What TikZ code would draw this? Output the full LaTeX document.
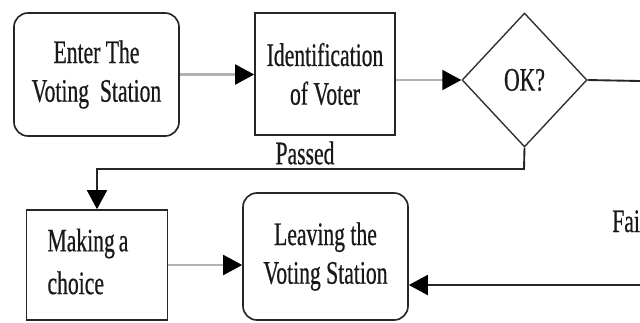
\documentclass[tikz,border=0pt]{standalone}
\usepackage{fontspec}
\usetikzlibrary{shapes.geometric,arrows.meta}
\newfontfamily\condserif[FakeStretch=0.66,FakeBold=0.5]{Liberation Serif}
\tikzset{
  lbl/.style={font=\condserif\fontsize{28}{33}\selectfont, text=black!90},
  stepbox/.style={lbl, draw=black!85, line width=1.4pt, align=center, inner sep=0pt},
  roundbox/.style={stepbox, rounded corners=0.42cm},
  decide/.style={lbl, draw=black!80, line width=1.2pt, diamond, inner sep=0pt},
  garrow/.style={draw=gray!60, line width=1.8pt, -{Triangle[length=0.57cm,width=0.6cm,fill=black,color=black]}},
  darrow/.style={draw=black!85, line width=1.6pt, -{Triangle[length=0.57cm,width=0.6cm,fill=black,color=black]}},
  dline/.style={draw=black!85, line width=1.6pt}
}
\begin{document}
\begin{tikzpicture}[x=0.03cm,y=-0.03cm]
\useasboundingbox (0,0) rectangle (640,322);
\clip (0,0) rectangle (640,322);
\fill[white] (0,0) rectangle (640,322);

\node[roundbox, minimum width=4.95cm, minimum height=3.69cm] (enter) at (96.5,74.5) {Enter The\\Voting~~Station};
\node[stepbox, minimum width=4.2cm, minimum height=3.66cm] (ident) at (325,74) {Identification\\of Voter};
\node[decide, minimum width=3.75cm, minimum height=4.02cm] (okq) at (524.5,80) {OK?};
\node[stepbox, minimum width=4.2cm, minimum height=3.3cm, text width=2.97cm, align=left, inner xsep=0.63cm] (making) at (97,265) {\begin{tabular}{@{}l@{}}Making\hspace{0.12em}a\\[0.12cm]choice\end{tabular}};
\node[roundbox, minimum width=4.95cm, minimum height=3.81cm] (leaving) at (325.5,256.5) {Leaving the\\Voting Station};

\node[lbl] (passed) at (305,153) {Passed};
\node[lbl, anchor=base west, inner sep=0pt] (failed) at (612,232) {Fai};

\coordinate (rightend) at (640,81);
\coordinate (failin) at (640,285);
\coordinate (pdown) at (524,169);

\draw[garrow] (enter.east) -- (enter.east -| ident.west);
\draw[garrow] (ident.east |- okq.west) -- (okq.west);
\draw[dline] (okq.east) -- (rightend);
\draw[darrow] (okq.south) -- (pdown) -| (making.north);
\draw[garrow] (making.east) -- (making.east -| leaving.west);
\draw[darrow] (failin) -- (failin -| leaving.east);
\end{tikzpicture}
\end{document}
